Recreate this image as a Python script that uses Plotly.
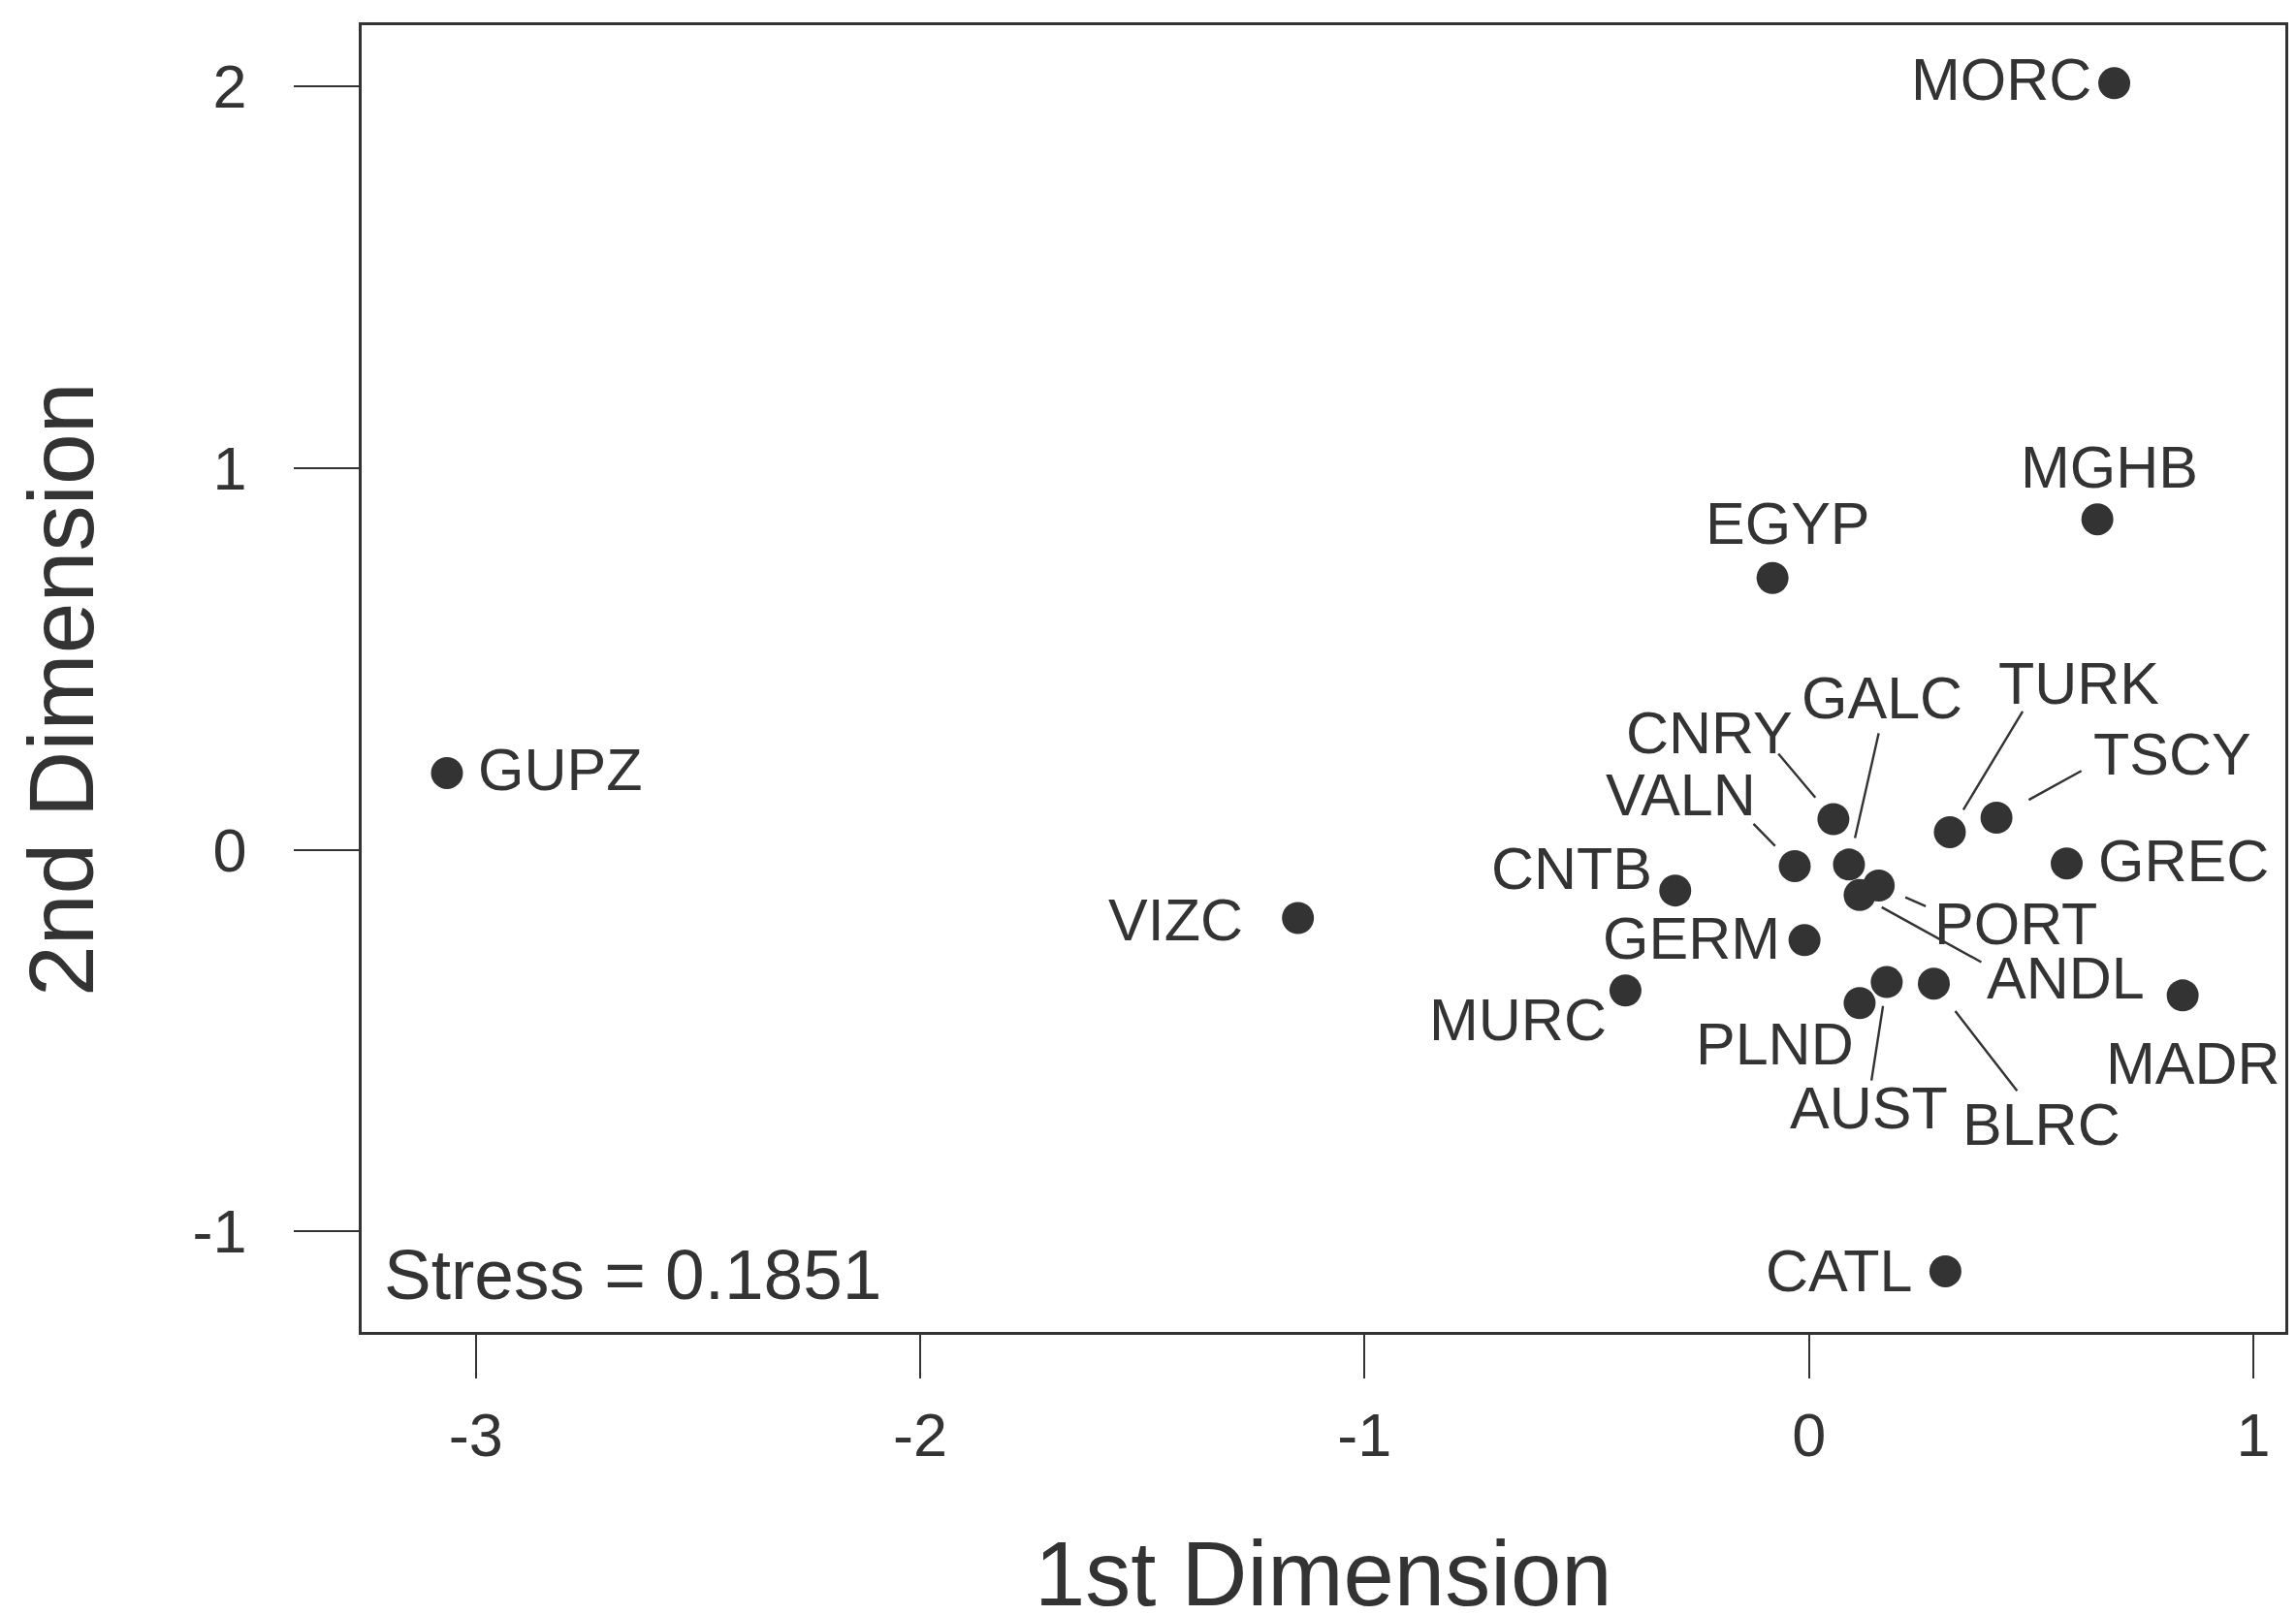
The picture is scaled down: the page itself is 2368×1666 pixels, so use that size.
import plotly.graph_objects as go

# ---------------- data ----------------
regions = ["MORC", "MGHB", "EGYP", "GUPZ", "VIZC", "CATL", "MADR", "GREC",
           "TSCY", "TURK", "CNRY", "VALN", "GALC", "PORT", "ANDL", "CNTB",
           "GERM", "MURC", "PLND", "AUST", "BLRC"]
dim1 = [0.687, 0.649, -0.082, -3.065, -1.150, 0.307, 0.841, 0.580,
        0.422, 0.317, 0.055, -0.032, 0.090, 0.157, 0.114, -0.301,
        -0.010, -0.413, 0.114, 0.175, 0.281]
dim2 = [2.009, 0.866, 0.712, 0.201, -0.179, -1.105, -0.382, -0.036,
        0.084, 0.046, 0.080, -0.043, -0.039, -0.094, -0.119, -0.107,
        -0.237, -0.369, -0.402, -0.347, -0.351]
x_tick_vals = [-3, -2, -1, 0, 1]
x_tick_text = ["-3", "-2", "-1", "0", "1"]
y_tick_vals = [-1, 0, 1, 2]
y_tick_text = ["-1", "0", "1", "2"]
x_title = "1st Dimension"
y_title = "2nd Dimension"
stress_text = "Stress = 0.1851"

# ---------------- layout / style ----------------
# the page body adds an 8px margin, so the figure is 8px smaller each way
W, H = 2360, 1658
ML, MR, MT, MB = 365, 8, 18, 292
XRANGE = [-3.257, 1.072]
YRANGE = [-1.264, 2.161]
INK = "#333333"
FONT = "Liberation Sans, Arial, sans-serif"
LABEL_SIZE = 61

# label placement: anchor, dx, dy (screen px, dy down positive)
label_pos = {
    "MORC": ("right", -22, -4), "MGHB": ("center", 12, -54),
    "EGYP": ("center", 16, -56), "GUPZ": ("left", 30, -3),
    "VIZC": ("right", -55, 2), "CATL": ("right", -32, 0),
    "MADR": ("center", 11, 70), "GREC": ("left", 30, -3),
    "TSCY": ("center", 181, -65), "TURK": ("center", 133, -153),
    "CNRY": ("center", -128, -89), "VALN": ("center", -118, -73),
    "GALC": ("center", 34, -172), "PORT": ("center", 141, 39),
    "ANDL": ("center", 213, 86), "CNTB": ("right", -22, -23),
    "GERM": ("right", -23, -2), "MURC": ("right", -17, 30),
    "PLND": ("center", -87, 42), "AUST": ("center", -18, 130),
    "BLRC": ("center", 111, 145),
}
# leader lines: tail offset (px) and gap before the point (px)
leaders = {
    "CNRY": (-58, -69, 29), "GALC": (31, -137, 28), "TURK": (76, -126, 27),
    "TSCY": (89, -49, 38), "VALN": (-44, -45, 29), "PORT": (50, 22, 30),
    "ANDL": (127, 70, 26), "AUST": (-16, 103, 25), "BLRC": (87, 112, 36),
}

fig = go.Figure()
fig.add_trace(go.Scatter(
    x=dim1, y=dim2, mode="markers",
    marker=dict(size=33, color=INK, line=dict(width=0)),
    hoverinfo="text", text=regions, showlegend=False,
))

annotations = []
for name, xv, yv in zip(regions, dim1, dim2):
    anchor, dx, dy = label_pos[name]
    annotations.append(dict(
        x=xv, y=yv, xref="x", yref="y", text=name, showarrow=False,
        xanchor=anchor, yanchor="middle", xshift=dx, yshift=-dy,
        font=dict(family=FONT, size=LABEL_SIZE, color=INK),
    ))
    if name in leaders:
        ax, ay, so = leaders[name]
        annotations.append(dict(
            x=xv, y=yv, xref="x", yref="y", text="", showarrow=True,
            ax=ax, ay=ay, axref="pixel", ayref="pixel", arrowhead=0,
            arrowwidth=2.4, arrowcolor=INK, standoff=so,
        ))

annotations.append(dict(
    xref="paper", yref="paper", x=0, y=0, xanchor="left", yanchor="middle",
    xshift=21, yshift=60, text=stress_text, showarrow=False,
    font=dict(family=FONT, size=73, color=INK),
))
annotations.append(dict(
    xref="paper", yref="paper", x=0.5, y=0, xanchor="center", yanchor="middle",
    yshift=-249, text=x_title, showarrow=False,
    font=dict(family=FONT, size=94, color=INK),
))
annotations.append(dict(
    xref="paper", yref="paper", x=0, y=0.4918, xanchor="center", yanchor="middle",
    xshift=-310, text=y_title, textangle=-90, showarrow=False,
    font=dict(family=FONT, size=95, color=INK),
))

axis_common = dict(
    showgrid=False, zeroline=False, showline=True, mirror=True,
    linecolor=INK, linewidth=2.5, ticks="outside", tickwidth=2,
    tickcolor=INK, tickfont=dict(family=FONT, size=63, color=INK),
)
fig.update_layout(
    width=W, height=H,
    margin=dict(l=ML, r=MR, t=MT, b=MB, pad=0),
    paper_bgcolor="white", plot_bgcolor="white",
    xaxis=dict(range=XRANGE, tickmode="array", tickvals=x_tick_vals,
               ticktext=x_tick_text, ticklen=45, ticklabelstandoff=5,
               **axis_common),
    yaxis=dict(range=YRANGE, tickmode="array", tickvals=y_tick_vals,
               ticktext=y_tick_text, ticklen=67, ticklabelstandoff=36,
               **axis_common),
    annotations=annotations,
)

fig.write_html("out.html")
